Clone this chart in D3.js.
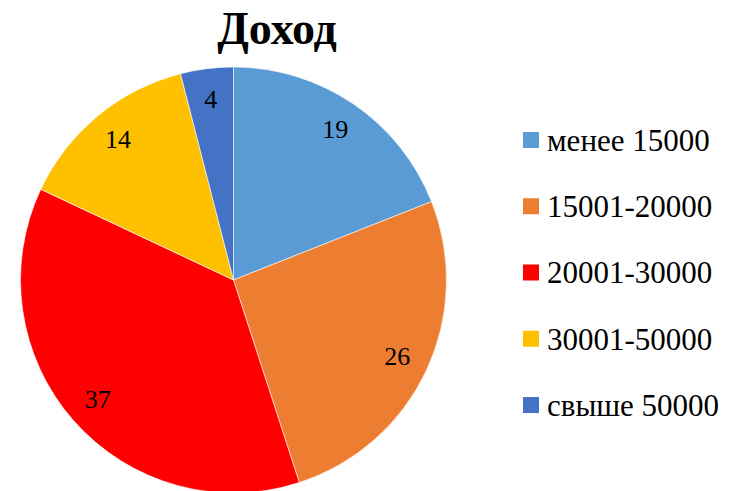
<!DOCTYPE html>
<html>
<head>
    <meta charset="utf-8">
    <title>Доход</title>
    <script type="text/javascript" src="https://cdn.jsdelivr.net/npm/d3@7/dist/d3.min.js"></script>
    <style type="text/css">
        body {
            margin: 0;
            background: #fff;
        }
        text {
            font-family: "Liberation Serif", "Times New Roman", serif;
            fill: #000;
        }
    </style>
</head>
<body>
<script type="text/javascript">
    var categories = ["менее 15000", "15001-20000", "20001-30000", "30001-50000", "свыше 50000"],
        values = [19, 26, 37, 14, 4],
        colors = ["#5B9BD5", "#ED7D31", "#FF0000", "#FFC000", "#4472C4"];

    var w = 737, h = 491,
        cx = 233.5, cy = 280, r = 213;

    var svg = d3.select("body")
        .append("svg")
            .attr("width", w)
            .attr("height", h);

    svg.append("text")
        .attr("x", 277)
        .attr("y", 44)
        .attr("text-anchor", "middle")
        .style("font-size", "46px")
        .style("font-weight", "bold")
        .text("Доход");

    var pie = d3.pie().sort(null).value(function (d) {return d;});
    var arc = d3.arc().innerRadius(0).outerRadius(r);
    var labelArc = d3.arc().innerRadius(r * 0.85).outerRadius(r * 0.85);

    var g = svg.append("g")
        .attr("transform", "translate(" + cx + "," + cy + ")");

    var slices = g.selectAll("g.slice")
        .data(pie(values))
        .enter().append("g")
            .attr("class", "slice");

    slices.append("path")
        .attr("d", arc)
        .attr("fill", function (d, i) {return colors[i];})
        .attr("stroke", "#fff")
        .attr("stroke-width", 0.6);

    slices.append("text")
        .attr("transform", function (d) {return "translate(" + labelArc.centroid(d) + ")";})
        .attr("text-anchor", "middle")
        .attr("dy", "0.3em")
        .style("font-size", "26px")
        .text(function (d) {return d.data;});

    // legend
    var legendY = d3.scalePoint()
        .domain(categories)
        .range([140, 405]);

    var legend = svg.selectAll("g.legend")
        .data(categories)
        .enter().append("g")
            .attr("class", "legend")
            .attr("transform", function (d) {return "translate(523," + legendY(d) + ")";});

    legend.append("rect")
        .attr("x", 0)
        .attr("y", -8)
        .attr("width", 16)
        .attr("height", 16)
        .attr("fill", function (d, i) {return colors[i];});

    legend.append("text")
        .attr("x", 24)
        .attr("dy", "0.35em")
        .style("font-size", "31px")
        .text(function (d) {return d;});
</script>
</body>
</html>
